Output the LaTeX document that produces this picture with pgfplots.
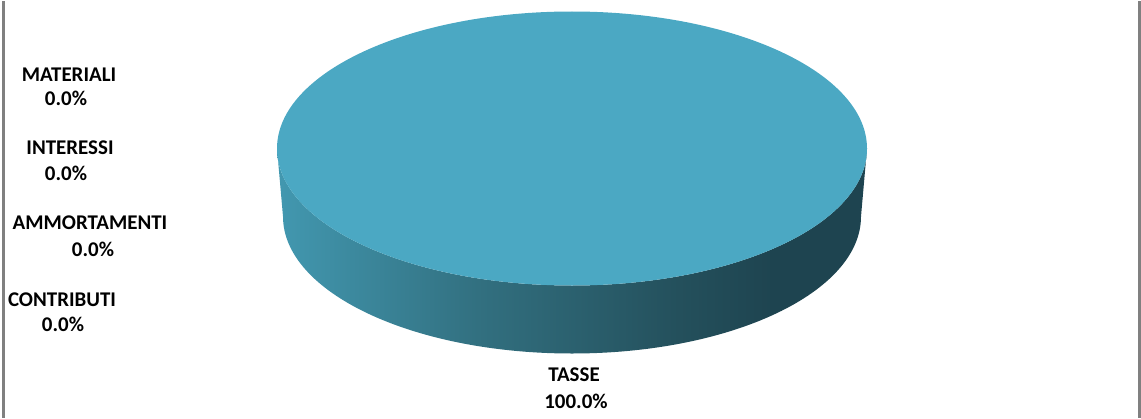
\documentclass[border=0pt]{standalone}
\usepackage{pgfplots}
\usepackage{pgfplotstable}
\pgfplotsset{compat=1.18}
\usepackage{fontspec}
\setmainfont{Carlito}

\definecolor{pietop}{RGB}{75,168,195}
\definecolor{frame}{RGB}{128,128,128}
% side of the 3D disc: light on the left, dark on the right
\pgfdeclarehorizontalshading{pieside}{100bp}{%
  rgb(0bp)=(0.259,0.596,0.690);
  rgb(25bp)=(0.259,0.596,0.690);
  rgb(42bp)=(0.196,0.439,0.502);
  rgb(59bp)=(0.141,0.314,0.361);
  rgb(67bp)=(0.118,0.267,0.314);
  rgb(100bp)=(0.118,0.267,0.314)}

% name, share (%), label position, percent position (pixels, y downwards)
\pgfplotstableread[col sep=comma]{
name,value,lx,ly,px,py
MATERIALI,0.0,69,73,66,97
INTERESSI,0.0,70,146,66,172
AMMORTAMENTI,0.0,90,221,93,248
CONTRIBUTI,0.0,62,298,63,323
TASSE,100.0,574,373,576,400
}\slices

\begin{document}
\begin{tikzpicture}
\begin{axis}[
  width=1141bp, height=416bp, scale only axis,
  xmin=0, xmax=1141, ymin=0, ymax=416, y dir=reverse,
  hide axis, clip=false,
  /pgf/number format/assume math mode=true,
  labelfont/.style={font=\fontsize{21}{24}\selectfont\bfseries},
]
\path (axis cs:0,0) (axis cs:1141,416);
% frame of the chart area
\draw[frame, line width=3bp] (axis cs:3.5,0) -- (axis cs:3.5,416);
\draw[frame, line width=3bp] (axis cs:1139.5,0) -- (axis cs:1139.5,416);
% TASSE = 100 %: the whole disc
\shade[shading=pieside] (axis cs:277,147) -- (axis cs:283,215)
  arc[start angle=180, end angle=360, x radius=289bp, y radius=137bp]
  -- (axis cs:867,147)
  arc[start angle=0, end angle=-180, x radius=295bp, y radius=137bp] -- cycle;
\fill[pietop] (axis cs:572,147) ellipse[x radius=295bp, y radius=137bp];
% data labels
\addplot[only marks, mark=none, nodes near coords, point meta=explicit symbolic,
  nodes near coords style={anchor=center, inner sep=0pt, font=\fontsize{21}{24}\selectfont\bfseries}]
  table[x=lx, y=ly, meta=name] {\slices};
\addplot[only marks, mark=none, nodes near coords={\pgfmathprintnumber[fixed,fixed zerofill,precision=1]{\pgfplotspointmeta}\%},
  point meta=explicit,
  nodes near coords style={anchor=center, inner sep=0pt, font=\fontsize{21}{24}\selectfont\bfseries}]
  table[x=px, y=py, meta=value] {\slices};
\end{axis}
\end{tikzpicture}
\end{document}
